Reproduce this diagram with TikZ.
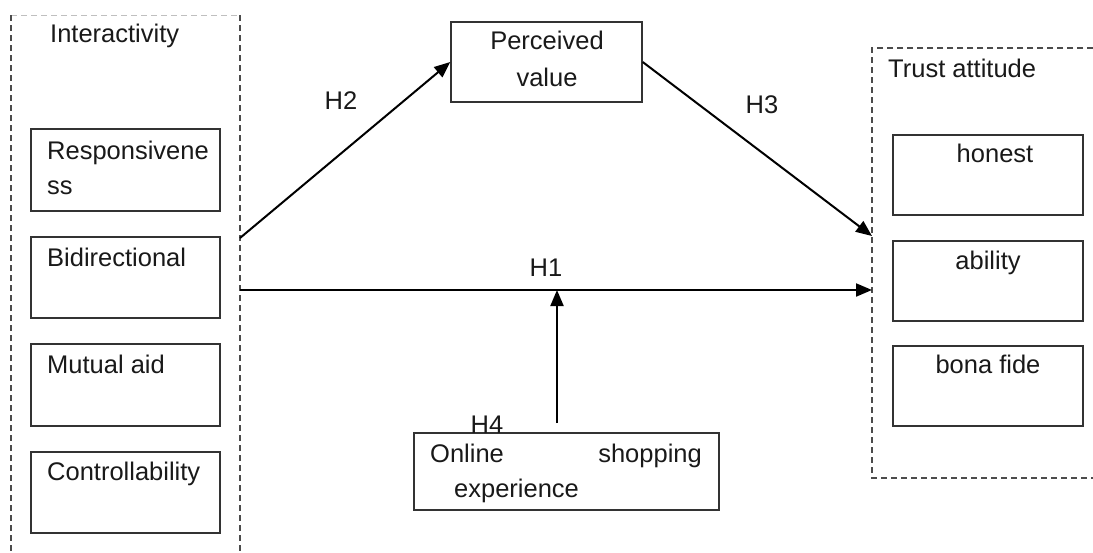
\documentclass[tikz,border=0pt]{standalone}
\usepackage{fontspec}
\setmainfont{Liberation Sans}
\usetikzlibrary{arrows.meta}
\begin{document}
\begin{tikzpicture}[x=1pt,y=-1pt,
  font=\fontsize{25.5}{35}\selectfont,
  itembox/.style={draw=black!80, line width=1.4pt, inner sep=0pt},
  group/.style={draw=black!70, line width=1.3pt, dash pattern=on 6pt off 4pt},
  faint/.style={draw=black!25, line width=1pt, dash pattern=on 6pt off 4pt},
  link/.style={line width=2pt, -{Triangle[length=16pt,width=13pt]}},
  txt/.style={inner sep=0pt, anchor=base west, text=black!90},
  ctxt/.style={inner sep=0pt, anchor=base, text=black!90},
  hyp/.style={inner sep=0pt, anchor=center, text=black!90}]
\useasboundingbox (0,0) rectangle (1093,552);

% Interactivity group (open at the bottom)
\draw[faint] (11,15) -- (240,15);
\draw[group] (11,15) -- (11,552);
\draw[group] (240,15) -- (240,552);
\node[txt] (tInter) at (50,42) {Interactivity};

% Trust attitude group (open on the right)
\draw[group] (1093,48) -- (872,48) -- (872,478) -- (1093,478);
\node[txt] (tTrust) at (888,77) {Trust attitude};

% Interactivity dimensions
\node[itembox, minimum width=189pt, minimum height=82pt] (resp) at (125.5,170) {};
\node[txt] (tResp1) at (47,159) {Responsivene};
\node[txt] (tResp2) at (47,194) {ss};
\node[itembox, minimum width=189pt, minimum height=81pt] (bidi) at (125.5,277.5) {};
\node[txt] (tBidi) at (47,266) {Bidirectional};
\node[itembox, minimum width=189pt, minimum height=82pt] (mutu) at (125.5,385) {};
\node[txt] (tMutu) at (47,373) {Mutual aid};
\node[itembox, minimum width=189pt, minimum height=81pt] (ctrl) at (125.5,492.5) {};
\node[txt] (tCtrl) at (47,480) {Controllability};

% Trust dimensions
\node[itembox, minimum width=190pt, minimum height=80pt] (hon) at (988,175) {};
\node[ctxt] (tHon) at (995,162) {honest};
\node[itembox, minimum width=190pt, minimum height=80pt] (abil) at (988,281) {};
\node[ctxt] (tAbil) at (988,269) {ability};
\node[itembox, minimum width=190pt, minimum height=80pt] (bona) at (988,386) {};
\node[ctxt] (tBona) at (988,373) {bona fide};

% Mediator
\node[itembox, minimum width=191pt, minimum height=80pt] (pv) at (546.5,62) {};
\node[ctxt] (tPv1) at (547,49) {Perceived};
\node[ctxt] (tPv2) at (547,86) {value};

% Moderator
\node[itembox, minimum width=305pt, minimum height=77pt] (ose) at (566.5,471.5) {};
\node[txt] (tOse1) at (430,462) {Online};
\node[inner sep=0pt, anchor=base east, text=black!90] (tOse2) at (702,462) {shopping};
\node[txt] (tOse3) at (454,497) {experience};

% Connector end points on the group borders
\coordinate (iTop) at (240,238);
\coordinate (iMid) at (240,290);
\coordinate (tTopIn) at (872,236);
\coordinate (tMidIn) at (872,290);
\coordinate (h1Mid) at (557,290);
\coordinate (oseTop) at (557,423);

\draw[link] (iTop) -- (pv.west);
\draw[link] (pv.east) -- (tTopIn);
\draw[link] (iMid) -- (tMidIn);
\draw[link] (oseTop) -- (h1Mid);

% Hypothesis labels
\node[hyp] (h2) at (341,101) {H2};
\node[hyp] (h3) at (762,105) {H3};
\node[hyp] (h1) at (546,268) {H1};
\node[hyp] (h4) at (487,425) {H4};
\end{tikzpicture}
\end{document}
